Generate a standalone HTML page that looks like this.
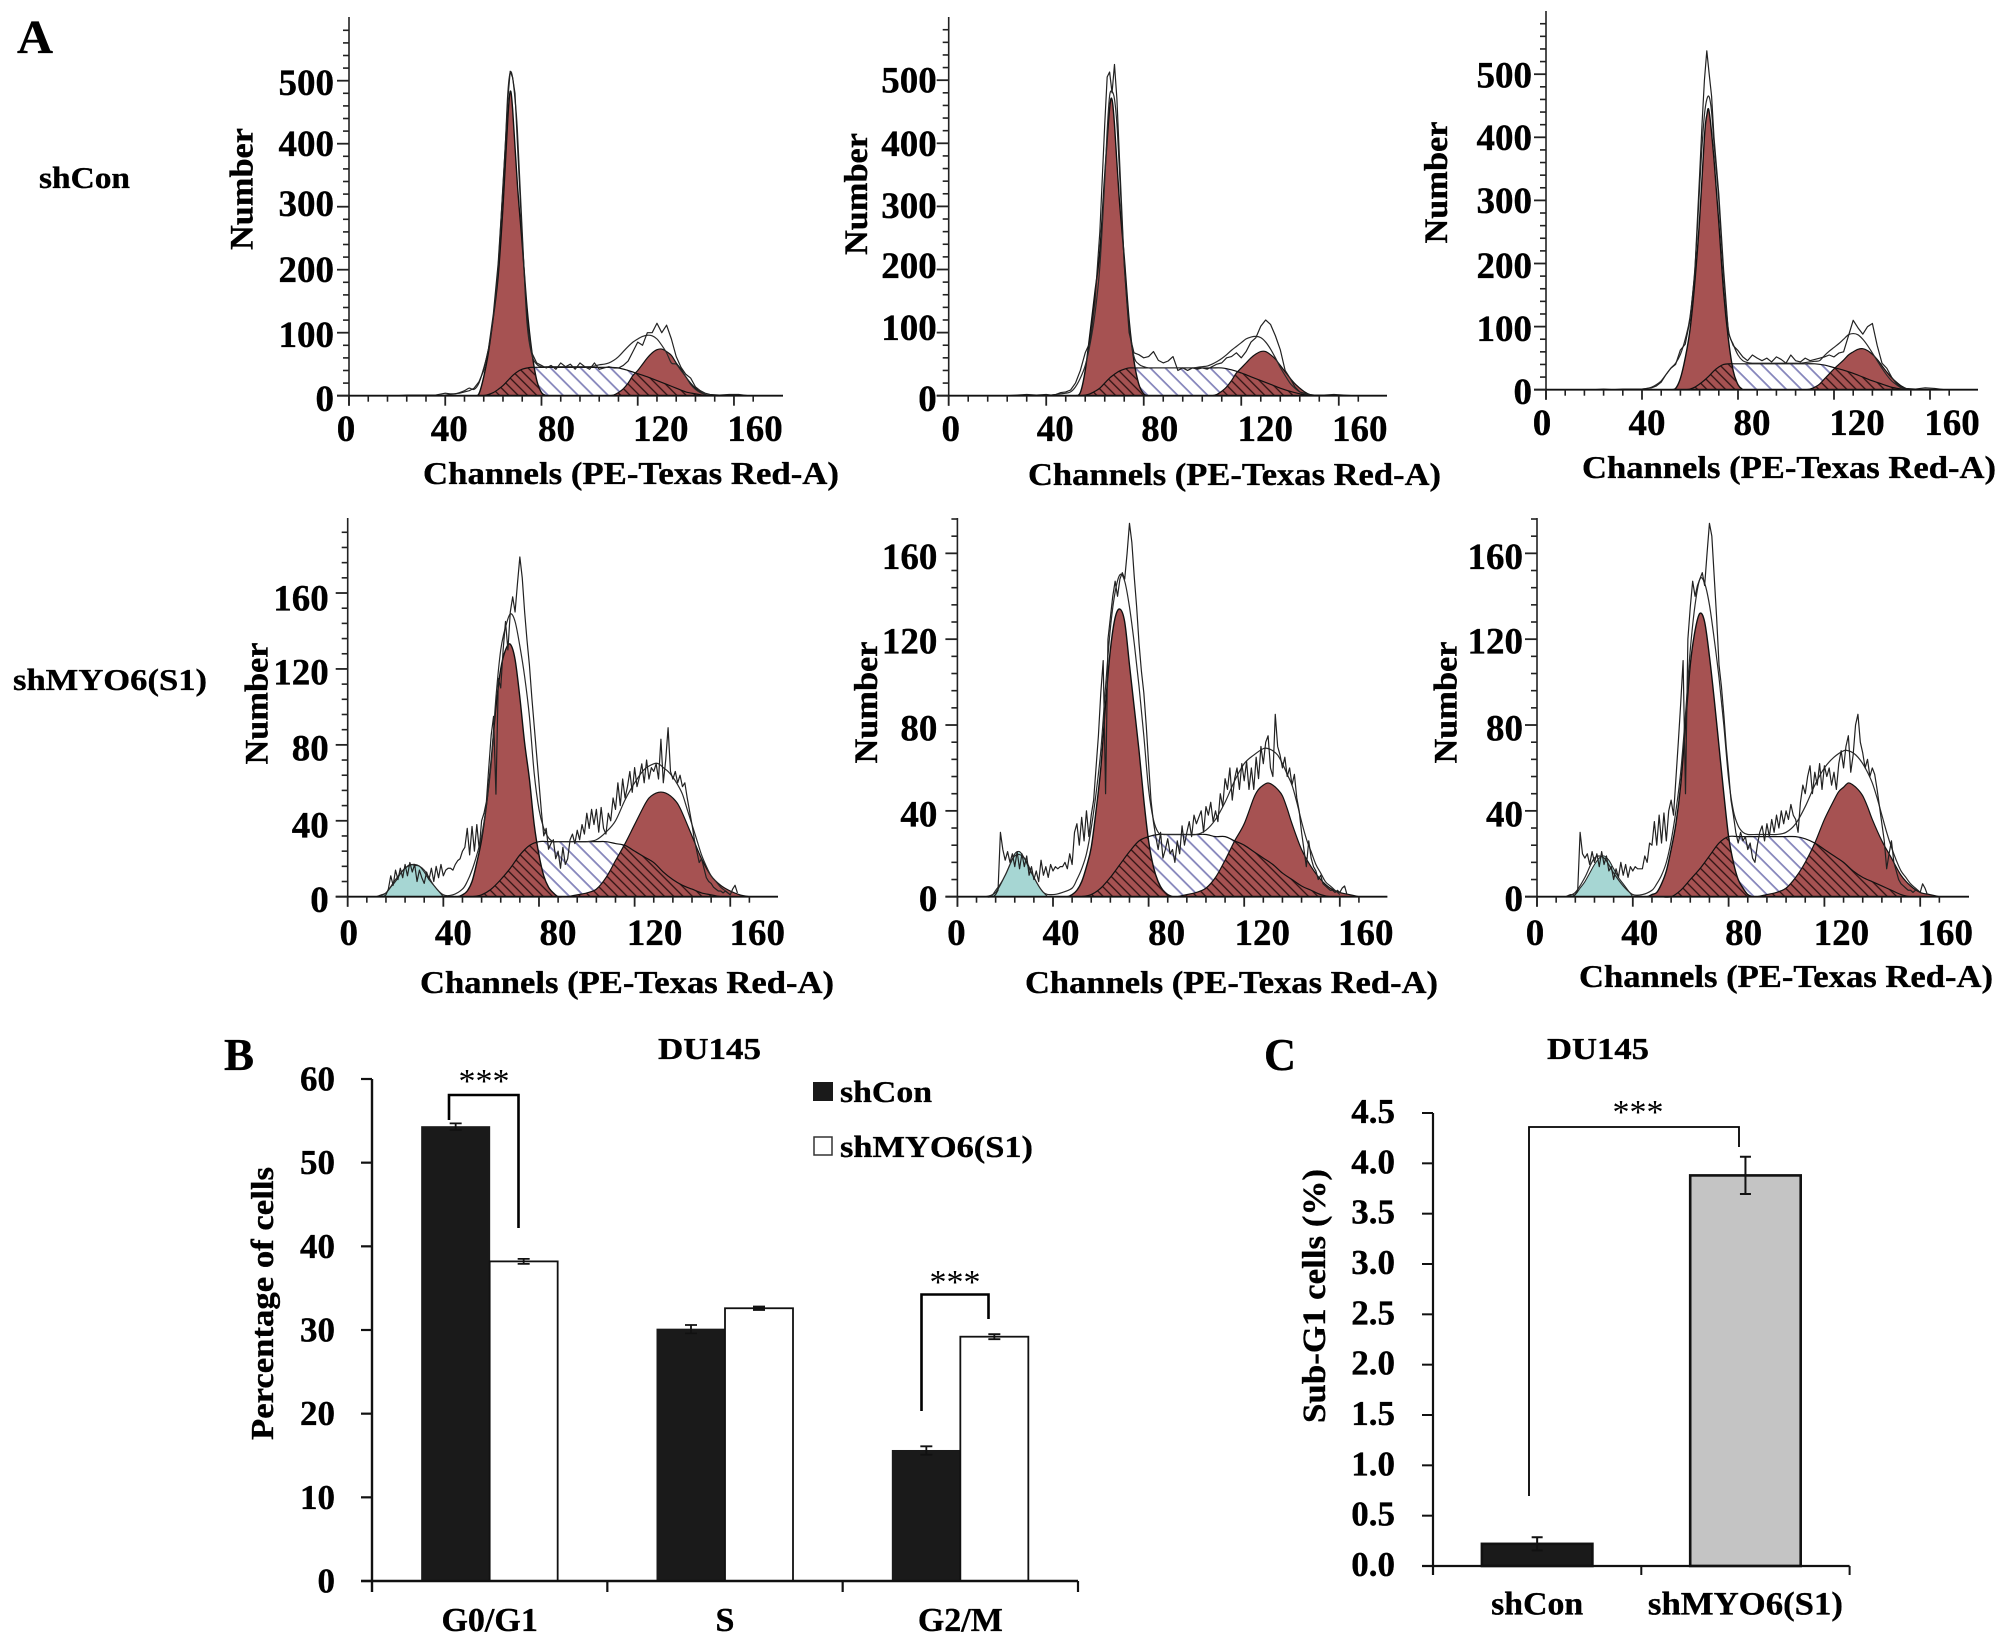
<!DOCTYPE html>
<html lang="en">
<head>
<meta charset="utf-8">
<title>DU145 cell cycle analysis</title>
<style>
html,body{margin:0;padding:0;background:#fff;width:2008px;height:1645px;overflow:hidden}
svg{display:block}
text{font-family:"Liberation Serif",serif;font-weight:bold;fill:#000;stroke:#000;stroke-width:0.35px}
.stars{font-weight:normal;font-size:34px;stroke-width:0}
</style>
</head>
<body>
<svg id="figure" xmlns="http://www.w3.org/2000/svg" width="2008" height="1645" viewBox="0 0 2008 1645">
<defs>
<pattern id="hatch-blue" patternUnits="userSpaceOnUse" width="10.6" height="10.6" patternTransform="rotate(-45)"><line x1="2" y1="0" x2="2" y2="10.6" stroke="#8585bb" stroke-width="1.8"/></pattern>
<pattern id="hatch-dark" patternUnits="userSpaceOnUse" width="6.6" height="6.6" patternTransform="rotate(-45)"><line x1="1" y1="0" x2="1" y2="6.6" stroke="#2c1212" stroke-width="1.3"/></pattern>
</defs>
<rect width="2008" height="1645" fill="#fff"/>

<text x="17" y="53" font-size="48" textLength="36" lengthAdjust="spacingAndGlyphs">A</text>
<text x="224" y="1070" font-size="46" textLength="30" lengthAdjust="spacingAndGlyphs">B</text>
<text x="1264" y="1070" font-size="46" textLength="32" lengthAdjust="spacingAndGlyphs">C</text>
<text x="39" y="188" font-size="31" textLength="91" lengthAdjust="spacingAndGlyphs">shCon</text>
<text x="13" y="690" font-size="31" textLength="194" lengthAdjust="spacingAndGlyphs">shMYO6(S1)</text>

<text x="423" y="484" font-size="32" textLength="416" lengthAdjust="spacingAndGlyphs">Channels (PE-Texas Red-A)</text>
<text x="1028" y="485" font-size="32" textLength="413" lengthAdjust="spacingAndGlyphs">Channels (PE-Texas Red-A)</text>
<text x="1582" y="478" font-size="32" textLength="414" lengthAdjust="spacingAndGlyphs">Channels (PE-Texas Red-A)</text>
<text x="420" y="993" font-size="32" textLength="414" lengthAdjust="spacingAndGlyphs">Channels (PE-Texas Red-A)</text>
<text x="1025" y="993" font-size="32" textLength="413" lengthAdjust="spacingAndGlyphs">Channels (PE-Texas Red-A)</text>
<text x="1579" y="987" font-size="32" textLength="414" lengthAdjust="spacingAndGlyphs">Channels (PE-Texas Red-A)</text>

<text transform="translate(252.5,189) rotate(-90)" text-anchor="middle" font-size="33" textLength="122" lengthAdjust="spacingAndGlyphs">Number</text>
<text transform="translate(867,194) rotate(-90)" text-anchor="middle" font-size="33" textLength="122" lengthAdjust="spacingAndGlyphs">Number</text>
<text transform="translate(1447,182.5) rotate(-90)" text-anchor="middle" font-size="33" textLength="122" lengthAdjust="spacingAndGlyphs">Number</text>
<text transform="translate(267.5,703.5) rotate(-90)" text-anchor="middle" font-size="33" textLength="122" lengthAdjust="spacingAndGlyphs">Number</text>
<text transform="translate(877,702.5) rotate(-90)" text-anchor="middle" font-size="33" textLength="122" lengthAdjust="spacingAndGlyphs">Number</text>
<text transform="translate(1456.5,702.5) rotate(-90)" text-anchor="middle" font-size="33" textLength="122" lengthAdjust="spacingAndGlyphs">Number</text>

<text x="658" y="1059" font-size="31" textLength="103" lengthAdjust="spacingAndGlyphs">DU145</text>
<text transform="translate(273,1303.5) rotate(-90)" text-anchor="middle" font-size="32" textLength="273" lengthAdjust="spacingAndGlyphs">Percentage of cells</text>
<rect x="813" y="1082" width="20" height="19" fill="#1a1a1a"/>
<text x="840" y="1102" font-size="31" textLength="92" lengthAdjust="spacingAndGlyphs">shCon</text>
<rect x="814" y="1137" width="18" height="18" fill="#fff" stroke="#333" stroke-width="1.5"/>
<text x="840" y="1157" font-size="31" textLength="193" lengthAdjust="spacingAndGlyphs">shMYO6(S1)</text>
<path d="M449 1120V1095H518.5V1228" fill="none" stroke="#000" stroke-width="2.6"/>
<text class="stars" x="484" y="1092" text-anchor="middle">***</text>
<path d="M921.5 1411V1294.5H988.5V1319" fill="none" stroke="#000" stroke-width="2.6"/>
<text class="stars" x="955" y="1293" text-anchor="middle">***</text>

<text x="1547" y="1059" font-size="31" textLength="102" lengthAdjust="spacingAndGlyphs">DU145</text>
<text transform="translate(1325,1296) rotate(-90)" text-anchor="middle" font-size="33" textLength="254" lengthAdjust="spacingAndGlyphs">Sub-G1 cells (%)</text>
<path d="M1529 1496V1127H1739V1147" fill="none" stroke="#000" stroke-width="1.8"/>
<text class="stars" x="1638" y="1123" text-anchor="middle">***</text>
</svg>

<script>
// ---------- Tick labels ----------
const histXTicks = [0, 40, 80, 120, 160];
const topYTicks = [0, 100, 200, 300, 400, 500];
const bottomYTicks = [0, 40, 80, 120, 160];

// ---------- Top row histograms: channel grids ----------
const topTraceChannels = [
  20,24,28,32,36,
  40,42,44,46,48,50,52,54,56,58,60,62,64,
  65,66,67,68,69,70,
  72,74,76,78,80,82,84,86,88,90,
  92,94,96,98,100,102,104,106,108,110,
  112,114,116,118,120,122,124,126,128,130,
  132,134,136,138,140,142,144,146,148,150,
  154,158,162,166];
const topG1Channels = [52,54,56,58,60,62,64,66,67,68,70,72,74,76,78,80,82];
const topSChannels = [54,56,58,60,62,64,66,68,70,72, 74,76,80,84,88,92,96,100,104,108, 112,116,120,124,128,132,136,140,144,148];
const topG2Channels = [100,104,108,110,112,114,116,118,120,122,124,126,128,130,132,134,136,138,140,142,144,146,148,150];

// Panel A1 (shCon replicate 1)
const a1Raw = [
  0,1,1,1,1,
  4,3,3,4,6,8,12,22,40,75,130,210,330,
  400,470,515,505,480,400,
  250,120,68,52,48,44,48,42,52,46,
  50,42,52,46,42,52,42,44,46,44,
  44,48,55,70,85,80,100,100,115,100,
  112,90,62,45,34,28,14,8,4,2,
  1,2,2,0];
const a1Fit = [
  0,0,0,0,0,
  1,2,3,5,8,12,10,20,44,75,125,205,335,
  400,480,513,505,470,420,
  260,115,65,50,46,46,46,46,46,46,
  46,46,46,46,46,47,49,50,52,56,
  62,70,78,85,90,94,96,95,90,80,
  68,52,50,40,30,18,10,5,2,0,
  0,0,0,0];
const a1G1 = [0,3,30,70,125,190,300,440,483,455,335,240,140,70,25,5,0];
const a1S = [0,0,2,5,10,16,24,32,38,42, 44,45,45,45,45,45,45,45,45,45, 44,40,35,30,24,18,12,6,3,0];
const a1G2 = [0,0,0,1,5,11,20,32,40,50,60,68,73,74,70,64,52,42,30,20,12,6,2,0];

// Panel A2 (shCon replicate 2)
const a2Raw = [
  0,0,1,2,1,
  2,1,2,5,6,9,20,40,68,85,150,260,430,
  505,513,480,525,470,380,
  207,100,68,65,60,62,70,56,52,55,
  62,40,44,40,44,42,44,42,46,50,
  52,60,62,68,60,70,85,92,110,120,
  113,95,73,40,28,14,6,4,2,1,
  1,2,1,0];
const a2Fit = [
  0,0,0,0,0,
  1,1,2,3,4,6,14,28,48,82,130,205,340,
  420,475,482,470,430,360,
  210,110,62,50,46,44,44,44,44,44,
  44,44,44,44,44,45,46,47,50,54,
  59,65,72,78,84,90,93,94,92,85,
  74,60,45,32,20,12,6,3,1,0,
  0,0,0,0];
const a2G1 = [0,5,40,100,165,230,350,455,469,430,310,220,120,55,18,3,0];
const a2S = [0,1,3,7,12,20,28,34,39,42, 44,44,44,44,44,44,44,44,44,44, 44,41,36,30,24,18,12,7,3,0];
const a2G2 = [0,0,0,2,7,14,24,36,44,52,60,66,70,70,65,58,48,38,28,19,12,6,2,0];

// Panel A3 (shCon replicate 3)
const a3Raw = [
  0,1,0,1,1,
  1,2,3,6,12,24,34,40,63,72,110,185,340,
  420,490,537,500,465,400,
  310,190,90,70,62,52,46,55,50,46,
  50,44,52,48,42,55,46,44,50,46,
  48,50,52,55,52,58,60,85,110,98,
  88,100,105,70,42,34,20,10,4,2,
  1,3,2,0];
const a3Fit = [
  0,0,0,0,0,
  1,2,4,8,14,24,34,42,56,80,115,190,320,
  385,435,460,464,440,390,
  300,180,95,72,55,46,43,42,42,42,
  42,42,42,42,42,42,42,42,43,44,
  45,46,54,61,67,73,80,87,89,87,
  80,70,58,46,34,23,14,8,3,1,
  0,0,0,0];
const a3G1 = [0,2,18,50,95,170,270,400,435,440,365,265,155,80,30,8,0];
const a3S = [0,0,0,1,4,9,15,22,30,36, 40,41,41,41,41,41,41,41,41,41, 41,39,35,31,26,20,14,9,4,1];
const a3G2 = [0,0,0,1,4,9,17,25,33,40,47,55,60,64,65,62,56,48,38,28,19,12,6,2];

// ---------- Bottom row histograms: channel grids ----------
const bottomRawChannels = [
  14,15,16,17,18,19,20,21,22,23,
  24,25,26,27,28,29,30,31,32,33,
  34,35,36,37,38,39,40,41,42,43,
  44,45,46,47,48,49,50,51,52,53,
  54,55,56,57,58,59,60,61,62,63,
  64,65,66,67,68,69,70,71,72,73,
  74,75,76,77,78,79,80,81,82,83,
  84,85,86,87,88,89,90,91,92,93,
  94,95,96,97,98,99,100,101,102,103,
  104,105,106,107,108,109,110,111,112,113,
  114,115,116,117,118,119,120,121,122,123,
  124,125,126,127,128,129,130,131,132,133,
  134,135,136,137,138,139,140,141,142,143,
  144,145,146,147,148,149,150,151,152,153,
  154,155,156,157,158,159,160,161,162,163];
const bottomFitChannels = [
  12,16,20,24,28,32,36,40,44,48,
  50,52,54,56,58,60,62,64,66,68,
  70,72,74,76,78,80,82,84,86,88,
  92,96,100,104,108,112,116,120,124,128,
  130,132,134,136,138,140,142,144,146,148,
  150,152,154,156,158,160];
const bottomSubChannels = [12,14,16,18,20,22,24,26,28,30,32,34,36,38,40];
const bottomG1Channels = [44,46,48,50,52,54,56,58,60,62,64,66,68,70,72,74,76,78,80,82,84,86,88,90];
const bottomSChannels = [52,56,60,64,68,72,76,80,84,88,92,96,100,104,108,112,116,120,124,128,132,136,140,144,148,152,156,160];
const bottomG2Channels = [92,96,100,104,108,112,116,120,124,126,128,130,132,134,136,138,140,144,148,152,156,160,164,168];

// Panel A4 (shMYO6 replicate 1)
const a4Raw = [
  0,0,1,4,11,6,14,9,15,10,
  17,11,18,13,17,8,14,10,7,13,
  9,15,8,16,10,17,11,14,15,15,
  14,17,19,20,24,26,36,22,37,24,
  38,25,40,44,50,68,85,95,54,115,
  110,130,145,130,150,158,150,165,179,168,
  150,135,122,105,90,75,60,45,32,36,
  25,28,30,20,24,15,26,17,20,30,
  33,28,35,30,38,33,44,36,46,38,
  46,34,47,36,33,44,40,52,46,60,
  48,62,52,58,66,55,68,58,63,70,
  60,72,62,68,66,70,62,83,60,72,
  89,66,62,66,60,64,58,60,52,45,
  38,30,24,18,20,15,10,8,7,5,
  4,3,3,2,3,2,1,4,6,2];
const a4Fit = [
  0,2,9,15,17,14,6,1,1,4,
  8,14,22,32,48,70,105,130,142,149,
  145,132,116,95,65,46,36,31,29,29,
  29,29,29,30,34,40,51,60,67,70,
  70,68,66,63,59,54,46,38,30,22,
  16,11,8,5,3,1];
const a4Sub = [0,1,2,5,8,12,15,17,16.5,16,13,9,6,3,0];
const a4G1 = [0,0,1,3,8,18,30,48,72,100,120,130,133,125,105,81,62,38,22,11,5,2,0,0];
const a4S = [0,1,4,9,15,22,27,29,29,29,29,29,29,29,29,28,27,24,21,18,13,9,6,4,2,1,0,0];
const a4G2 = [0,1,2,4,10,19,28,38,48,52,54,55,55,54,52,49,44,32,20,11,6,3,1,0];

// Panel A5 (shMYO6 replicate 2)
const a5Raw = [
  0,0,1,3,30,22,17,21,16,20,
  14,21,13,20,14,19,10,14,8,12,
  7,17,10,14,9,15,12,14,13,14,
  14,16,13,20,15,30,34,24,37,26,
  40,28,38,45,60,75,95,110,48,120,
  130,140,147,140,148,151,148,160,174,165,
  149,135,118,105,95,80,62,45,35,28,
  22,30,18,22,27,20,22,16,26,20,
  33,24,30,35,28,38,34,37,40,30,
  42,38,44,35,40,35,48,42,55,50,
  60,45,55,60,50,62,54,63,50,60,
  50,65,55,70,62,72,75,60,56,85,
  70,66,60,65,56,60,52,57,46,40,
  30,22,14,26,18,14,12,8,10,6,
  5,4,3,3,2,3,2,4,5,1];
const a5Fit = [
  0,2,10,19,18,9,2,1,2,4,
  8,13,20,32,48,68,98,125,142,150,
  147,135,118,98,75,50,36,30,29,29,
  29,29,29,31,36,44,54,62,66,69,
  69,68,66,62,57,52,44,35,27,21,
  15,11,7,5,3,1];
const a5Sub = [0,0,3,6,10,15,20,21,18,13,9,5,2,0,0];
const a5G1 = [0,0,1,3,7,14,23,40,60,90,115,130,134,128,108,88,68,45,26,14,7,3,1,0];
const a5S = [0,1,4,9,15,21,26,28,29,29,29,29,29,29,28,28,26,24,21,18,15,11,8,5,3,1,0,0];
const a5G2 = [0,1,2,4,9,17,26,34,46,50,52,53,52,50,47,41,34,22,14,8,4,2,1,0];

// Panel A6 (shMYO6 replicate 3)
const a6Raw = [
  0,0,1,3,30,20,18,20,15,21,
  16,20,14,21,15,19,12,14,8,13,
  9,16,10,15,9,14,12,14,13,13,
  13,19,16,25,24,35,24,38,25,39,
  26,40,45,38,55,72,90,110,48,120,
  135,147,140,145,148,151,145,160,174,168,
  149,130,108,98,85,70,58,45,38,30,
  25,30,26,28,22,25,18,16,24,30,
  33,26,34,28,36,30,38,32,40,34,
  40,36,43,38,36,30,44,52,48,56,
  61,48,58,52,62,50,61,56,60,52,
  58,50,62,68,60,70,75,58,66,80,
  85,72,67,60,64,56,60,57,50,42,
  34,26,13,20,26,16,12,8,6,5,
  4,3,3,2,3,3,2,6,4,1];
const a6Fit = [
  0,2,9,18,18,11,5,1,1,3,
  6,10,16,26,40,58,85,115,136,148,
  146,136,120,102,80,55,40,33,30,29,
  29,29,29,30,34,42,52,60,65,68,
  68,67,65,62,58,53,46,38,30,23,
  17,12,9,6,4,2];
const a6Sub = [0,1,1,4,7,11,15,18,19,17,13,9,6,3,0];
const a6G1 = [0,0,1,2,6,12,22,34,52,80,108,124,132,128,112,92,70,48,28,16,8,4,1,0];
const a6S = [0,0,3,8,13,19,25,28,28,28,28,28,28,28,28,27,25,22,19,16,12,9,7,5,3,1,0,0];
const a6G2 = [0,1,2,4,9,16,25,36,45,49,51,53,52,50,47,42,36,26,18,10,5,2,1,0];

// ---------- Chart B data ----------
const phaseCategories = ['G0/G1', 'S', 'G2/M'];
const phaseShCon = [54.3, 30.1, 15.6];
const phaseShMYO6 = [38.2, 32.6, 29.2];
const phaseShConErr = [0.4, 0.5, 0.5];
const phaseShMYO6Err = [0.3, 0.2, 0.3];
const phaseYTicks = [0, 10, 20, 30, 40, 50, 60];

// ---------- Chart C data ----------
const subG1Categories = ['shCon', 'shMYO6(S1)'];
const subG1Values = [0.22, 3.88];
const subG1Err = [0.065, 0.185];
const subG1YTicks = ['0.0', '0.5', '1.0', '1.5', '2.0', '2.5', '3.0', '3.5', '4.0', '4.5'];

// ---------- Drawing helpers ----------
const NS = 'http://www.w3.org/2000/svg';
const figure = document.getElementById('figure');
function make(tag, attrs, parent) {
  const node = document.createElementNS(NS, tag);
  for (const key in attrs) node.setAttribute(key, attrs[key]);
  parent.appendChild(node);
  return node;
}
function pointsOf(channels, values, xs, ys) {
  const pts = [];
  const n = Math.min(channels.length, values.length);
  for (let i = 0; i < n; i++) pts.push([xs(channels[i]), ys(values[i])]);
  return pts;
}
function roughPath(pts) {
  return 'M' + pts.map(p => p[0].toFixed(2) + ' ' + p[1].toFixed(2)).join('L');
}
function smoothPath(pts) {
  let d = 'M' + pts[0][0].toFixed(2) + ' ' + pts[0][1].toFixed(2);
  for (let i = 0; i < pts.length - 1; i++) {
    const p0 = pts[Math.max(i - 1, 0)], p1 = pts[i], p2 = pts[i + 1], p3 = pts[Math.min(i + 2, pts.length - 1)];
    const c1x = p1[0] + (p2[0] - p0[0]) / 6, c1y = p1[1] + (p2[1] - p0[1]) / 6;
    const c2x = p2[0] - (p3[0] - p1[0]) / 6, c2y = p2[1] - (p3[1] - p1[1]) / 6;
    d += 'C' + c1x.toFixed(2) + ' ' + c1y.toFixed(2) + ' ' + c2x.toFixed(2) + ' ' + c2y.toFixed(2) + ' ' + p2[0].toFixed(2) + ' ' + p2[1].toFixed(2);
  }
  return d;
}
function closedArea(pts, base) {
  return smoothPath(pts) + 'L' + pts[pts.length - 1][0].toFixed(2) + ' ' + base + 'L' + pts[0][0].toFixed(2) + ' ' + base + 'Z';
}

// ---------- Histogram layouts (axis geometry, not data) ----------
const histPanels = [
  { id:'a1', axisX:349, perCh:2.406, base:395.7, perUnit:0.63, top:17, right:783, yTicks:topYTicks, yMinor:20, yMinorMax:580, labelGap:15, labelDy:[3,2,0,-3,0,2], labelDx:[-3,4,15,23,21], xLabelBase:441,
    traceCh:topTraceChannels, raw:a1Raw, fit:a1Fit, g1Ch:topG1Channels, g1:a1G1, sCh:topSChannels, s:a1S, g2Ch:topG2Channels, g2:a1G2 },
  { id:'a2', axisX:948.7, perCh:2.438, base:395.7, perUnit:0.631, top:17, right:1387, yTicks:topYTicks, yMinor:20, yMinorMax:580, labelGap:12, labelDy:[3,-5,-4,-1,0,0], labelDx:[2,9,16,24,21], xLabelBase:441,
    traceCh:topTraceChannels, raw:a2Raw, fit:a2Fit, g1Ch:topG1Channels, g1:a2G1, sCh:topSChannels, s:a2S, g2Ch:topG2Channels, g2:a2G2 },
  { id:'a3', axisX:1546, perCh:2.4, base:389.7, perUnit:0.631, top:11, right:1978, yTicks:topYTicks, yMinor:20, yMinorMax:580, labelGap:14, labelDy:[2,2,2,0,0,1], labelDx:[-4,5,14,23,22], xLabelBase:435,
    traceCh:topTraceChannels, raw:a3Raw, fit:a3Fit, g1Ch:topG1Channels, g1:a3G1, sCh:topSChannels, s:a3S, g2Ch:topG2Channels, g2:a3G2 },
  { id:'a4', axisX:347.7, perCh:2.391, base:896.7, perUnit:1.898, top:518, right:778, yTicks:bottomYTicks, yMinor:8, yMinorMax:192, labelGap:19, labelDy:[3,4,3,3,5], labelDx:[1,10,19,20,27], xLabelBase:945,
    traceCh:bottomRawChannels, fitCh:bottomFitChannels, raw:a4Raw, fit:a4Fit, subCh:bottomSubChannels, sub:a4Sub, g1Ch:bottomG1Channels, g1:a4G1, sCh:bottomSChannels, s:a4S, g2Ch:bottomG2Channels, g2:a4G2 },
  { id:'a5', axisX:957.4, perCh:2.39, base:896.7, perUnit:2.146, top:518, right:1387.4, yTicks:bottomYTicks, yMinor:8, yMinorMax:176, labelGap:20, labelDy:[2,3,3,2,3], labelDx:[-1,8,18,18,26], xLabelBase:945,
    traceCh:bottomRawChannels, fitCh:bottomFitChannels, raw:a5Raw, fit:a5Fit, subCh:bottomSubChannels, sub:a5Sub, g1Ch:bottomG1Channels, g1:a5G1, sCh:bottomSChannels, s:a5S, g2Ch:bottomG2Channels, g2:a5G2 },
  { id:'a6', axisX:1537, perCh:2.395, base:896.7, perUnit:2.146, top:518, right:1969, yTicks:bottomYTicks, yMinor:8, yMinorMax:176, labelGap:14, labelDy:[2,3,3,2,3], labelDx:[-2,7,15,17,25], xLabelBase:945,
    traceCh:bottomRawChannels, fitCh:bottomFitChannels, raw:a6Raw, fit:a6Fit, subCh:bottomSubChannels, sub:a6Sub, g1Ch:bottomG1Channels, g1:a6G1, sCh:bottomSChannels, s:a6S, g2Ch:bottomG2Channels, g2:a6G2 }
];

function drawHistogram(p) {
  const xs = c => p.axisX + c * p.perCh;
  const ys = v => p.base - v * p.perUnit;
  const g = make('g', {}, figure);
  
  

  const sPts = pointsOf(p.sCh, p.s, xs, ys);
  const g1Pts = pointsOf(p.g1Ch, p.g1, xs, ys);
  const g2Pts = pointsOf(p.g2Ch, p.g2, xs, ys);
  const sArea = closedArea(sPts, p.base);
  const g1Area = closedArea(g1Pts, p.base);
  const g2Area = closedArea(g2Pts, p.base);

  const sBack = make('path', { d:sArea, fill:'url(#hatch-blue)' }, g);
  
  

  if (p.sub) {
    const subArea = make('path', { d:closedArea(pointsOf(p.subCh, p.sub, xs, ys), p.base), fill:'#a6d6d3', stroke:'#222', 'stroke-width':1 }, g);
    
    
  }

  const g1Fill = make('path', { d:g1Area, fill:'#a65252', stroke:'#111', 'stroke-width':1.4 }, g);
  
  

  const g2Fill = make('path', { d:g2Area, fill:'#a65252', stroke:'#111', 'stroke-width':1.2 }, g);
  
  

  const clip = make('clipPath', { id:p.id + '-red-clip' }, g);
  make('path', { d:g1Area }, clip);
  make('path', { d:g2Area }, clip);
  const sFront = make('path', { d:sArea, fill:'url(#hatch-dark)', 'clip-path':'url(#' + p.id + '-red-clip)' }, g);
  
  

  const sTop = make('path', { d:smoothPath(sPts), fill:'none', stroke:'#111', 'stroke-width':1.2 }, g);
  
  

  const fitLine = make('path', { d:smoothPath(pointsOf(p.fitCh || p.traceCh, p.fit, xs, ys)), fill:'none', stroke:'#2a2a2a', 'stroke-width':1.2 }, g);
  
  

  const rawLine = make('path', { d:roughPath(pointsOf(p.traceCh, p.raw, xs, ys)), fill:'none', stroke:'#222', 'stroke-width':1.2, 'stroke-linejoin':'round' }, g);
  
  

  const yAxis = make('line', { x1:p.axisX, y1:p.top, x2:p.axisX, y2:p.base + 10, stroke:'#222', 'stroke-width':1.6 }, g);
  
  
  const xAxis = make('line', { x1:p.axisX - 12, y1:p.base, x2:p.right, y2:p.base, stroke:'#111', 'stroke-width':1.8 }, g);
  
  

  for (let v = p.yMinor; v <= p.yMinorMax; v += p.yMinor) {
    if (p.yTicks.includes(v)) continue;
    const tick = make('line', { x1:p.axisX - 6, y1:ys(v), x2:p.axisX, y2:ys(v), stroke:'#222', 'stroke-width':1.6 }, g);
    
    
  }
  p.yTicks.forEach((v, i) => {
    const tick = make('line', { x1:p.axisX - 12, y1:ys(v), x2:p.axisX, y2:ys(v), stroke:'#222', 'stroke-width':1.8 }, g);
    
    
    const label = make('text', { x:p.axisX - p.labelGap, y:ys(v) + 12.5 + p.labelDy[i], 'text-anchor':'end', 'font-size':37 }, g);
    label.textContent = String(v);
    
    
  });
  for (let c = 8; c <= 168; c += 8) {
    if (histXTicks.includes(c)) continue;
    const tick = make('line', { x1:xs(c), y1:p.base, x2:xs(c), y2:p.base + 6, stroke:'#222', 'stroke-width':1.6 }, g);
    
    
  }
  histXTicks.forEach((c, i) => {
    const tick = make('line', { x1:xs(c), y1:p.base, x2:xs(c), y2:p.base + 10, stroke:'#222', 'stroke-width':1.8 }, g);
    
    
    const label = make('text', { x:xs(c) + p.labelDx[i], y:p.xLabelBase, 'text-anchor':'middle', 'font-size':37 }, g);
    label.textContent = String(c);
    
    
  });
}
histPanels.forEach(drawHistogram);

// ---------- Chart B ----------
(function drawPhaseChart() {
  const left = 372, right = 1078, base = 1581, top = 1079, barW = 68;
  const band = (right - left) / phaseCategories.length;
  const ys = v => base - v * (base - top) / 60;
  const g = make('g', {}, figure);
  
  

  phaseCategories.forEach((cat, i) => {
    const cx = left + band * (i + 0.5);
    const a = make('rect', { x:cx - barW, y:ys(phaseShCon[i]), width:barW, height:base - ys(phaseShCon[i]), fill:'#1a1a1a', stroke:'#1a1a1a', 'stroke-width':1 }, g);
    
    
    const b = make('rect', { x:cx, y:ys(phaseShMYO6[i]), width:barW, height:base - ys(phaseShMYO6[i]), fill:'#fff', stroke:'#111', 'stroke-width':1.8 }, g);
    
    

    [[cx - barW / 2, phaseShCon[i], phaseShConErr[i]], [cx + barW / 2, phaseShMYO6[i], phaseShMYO6Err[i]]].forEach(e => {
      const eb = make('path', { d:'M' + (e[0] - 6) + ' ' + ys(e[1] + e[2]) + 'H' + (e[0] + 6) + 'M' + e[0] + ' ' + ys(e[1] + e[2]) + 'V' + ys(e[1] - e[2]) + 'M' + (e[0] - 6) + ' ' + ys(e[1] - e[2]) + 'H' + (e[0] + 6), fill:'none', stroke:'#111', 'stroke-width':1.8 }, g);
      
      
    });

    const label = make('text', { x:cx, y:1631, 'text-anchor':'middle', 'font-size':34 }, g);
    label.textContent = cat;
    
    
  });

  const yAxis = make('line', { x1:left, y1:top, x2:left, y2:base + 11, stroke:'#111', 'stroke-width':2.4 }, g);
  
  
  const xAxis = make('line', { x1:left - 11, y1:base, x2:right, y2:base, stroke:'#111', 'stroke-width':2.4 }, g);
  
  
  phaseYTicks.forEach(v => {
    const tick = make('line', { x1:left - 11, y1:ys(v), x2:left, y2:ys(v), stroke:'#111', 'stroke-width':2.2 }, g);
    
    
    const label = make('text', { x:left - 37, y:ys(v) + 11.5, 'text-anchor':'end', 'font-size':35 }, g);
    label.textContent = String(v);
    
    
  });
  for (let i = 1; i <= phaseCategories.length; i++) {
    const tick = make('line', { x1:left + band * i, y1:base, x2:left + band * i, y2:base + 11, stroke:'#111', 'stroke-width':2.2 }, g);
    
    
  }
})();

// ---------- Chart C ----------
(function drawSubG1Chart() {
  const left = 1433, right = 1849.6, base = 1566, top = 1113, barW = 110.5;
  const band = (right - left) / subG1Categories.length;
  const ys = v => base - v * (base - top) / 4.5;
  const g = make('g', {}, figure);
  
  
  const fills = ['#1a1a1a', '#c4c4c4'];

  subG1Categories.forEach((cat, i) => {
    const cx = left + band * (i + 0.5);
    const bar = make('rect', { x:cx - barW / 2, y:ys(subG1Values[i]), width:barW, height:base - ys(subG1Values[i]), fill:fills[i], stroke:'#111', 'stroke-width':2.6 }, g);
    
    

    const hi = ys(subG1Values[i] + subG1Err[i]), lo = ys(subG1Values[i] - subG1Err[i]);
    const eb = make('path', { d:'M' + (cx - 5.5) + ' ' + hi + 'H' + (cx + 5.5) + 'M' + cx + ' ' + hi + 'V' + lo + 'M' + (cx - 5.5) + ' ' + lo + 'H' + (cx + 5.5), fill:'none', stroke:'#111', 'stroke-width':2 }, g);
    
    

    const label = make('text', { x:cx, y:1614.5, 'text-anchor':'middle', 'font-size':33, textLength:i === 0 ? 92 : 195, lengthAdjust:'spacingAndGlyphs' }, g);
    label.textContent = cat;
    
    
  });

  const yAxis = make('line', { x1:left, y1:top, x2:left, y2:base + 9, stroke:'#111', 'stroke-width':2.2 }, g);
  
  
  const xAxis = make('line', { x1:left - 11, y1:base, x2:right, y2:base, stroke:'#111', 'stroke-width':2.2 }, g);
  
  
  subG1YTicks.forEach(t => {
    const v = parseFloat(t);
    const tick = make('line', { x1:left - 11, y1:ys(v), x2:left, y2:ys(v), stroke:'#111', 'stroke-width':2 }, g);
    
    
    const label = make('text', { x:left - 38, y:ys(v) + 10, 'text-anchor':'end', 'font-size':35 }, g);
    label.textContent = t;
    
    
  });
  for (let i = 1; i <= subG1Categories.length; i++) {
    const tick = make('line', { x1:left + band * i, y1:base, x2:left + band * i, y2:base + 9, stroke:'#111', 'stroke-width':2 }, g);
    
    
  }
})();
</script>
</body>
</html>
